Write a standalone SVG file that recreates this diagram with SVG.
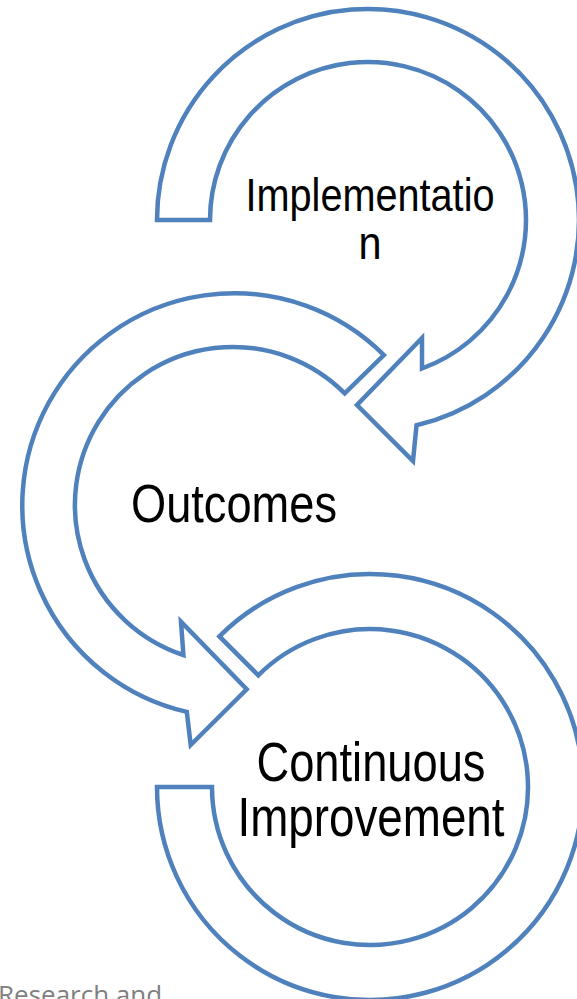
<svg xmlns="http://www.w3.org/2000/svg" width="577" height="999" viewBox="0 0 577 999">
<style>
.ring{fill:#ffffff;stroke:#4F81BD;stroke-width:4.5;stroke-linejoin:miter}
.lbl{font-family:"Liberation Sans Narrow","Liberation Sans",Arial,sans-serif;fill:#000000;text-anchor:middle}
.foot{font-family:"Open Sans","Liberation Sans",sans-serif;fill:#808080;font-size:26px}
</style>
<rect x="0" y="0" width="577" height="999" fill="#ffffff"/>
<g id="connectors"></g>
<g id="node-implementation">
<path class="ring" d="M157,220 A211,211 0 1 1 416.5,425.3 L413,461 L357,405 L422,338 L422,368.5 A158,158 0 1 0 210,220 Z"/>
<text class="lbl" font-size="47" x="370" y="211" textLength="249" lengthAdjust="spacingAndGlyphs">Implementatio</text>
<text class="lbl" font-size="47" x="370" y="259" textLength="23" lengthAdjust="spacingAndGlyphs">n</text>
</g>
<g id="node-outcomes">
<path class="ring" d="M383.9,355.1 A212,212 0 1 0 186.8,711.9 L190.7,745 L246.7,689.3 L181,621.7 L183.4,655 A158,158 0 1 1 344.7,393.3 Z"/>
<text class="lbl" font-size="54" x="234" y="522" textLength="206" lengthAdjust="spacingAndGlyphs">Outcomes</text>
</g>
<g id="node-continuous-improvement">
<path class="ring" d="M219.4,636.4 A213,213 0 1 1 157,787 L212,787 A158,158 0 1 0 258.3,675.3 Z"/>
<text class="lbl" font-size="55" x="371" y="781" textLength="229" lengthAdjust="spacingAndGlyphs">Continuous</text>
<text class="lbl" font-size="55" x="371" y="836" textLength="267" lengthAdjust="spacingAndGlyphs">Improvement</text>
</g>
<text class="foot" x="-2" y="1004">Research and</text>
</svg>
